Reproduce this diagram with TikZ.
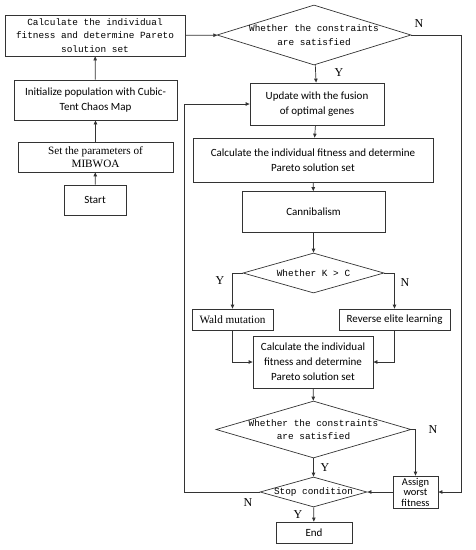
\documentclass[tikz,border=0pt]{standalone}
\usepackage{fontspec}
\setmainfont{Carlito}
\newfontfamily\monofam{Liberation Mono}
\newfontfamily\seriffam{Liberation Serif}
\usepackage{tikz}
\usetikzlibrary{arrows.meta,shapes.geometric}
\newcommand\sanstxt{\fontsize{11}{15}\selectfont}
\newcommand\monotxt{\monofam\fontsize{9.4}{13.5}\selectfont}
\newcommand\seriftxt{\seriffam\fontsize{11.2}{13.5}\selectfont}
\newcommand\yntxt{\seriffam\fontsize{12}{12}\selectfont}

\begin{document}
\begin{tikzpicture}[x=1pt,y=-1pt,>={Triangle[length=4pt,width=3.4pt]},line width=0.7pt,
  box/.style={draw=black!80,align=center,inner sep=0pt,font=\sanstxt},
  dia/.style={draw=black!80,diamond,inner sep=0pt},
  diatxt/.style={align=center,inner sep=0pt,font=\monotxt},
  yn/.style={inner sep=0pt,font=\yntxt},
  flow/.style={->,draw=black!80}]
\useasboundingbox (0,0) rectangle (475,550);
\node[box,font=\monotxt,minimum width=180,minimum height=41] (calcA) at (95,35.5) {Calculate the individual\\fitness and determine Pareto\\solution set};
\node[box,minimum width=163,minimum height=40] (init) at (95.5,100) {Initialize population with Cubic-\\Tent Chaos Map};
\node[box,font=\seriftxt,minimum width=155,minimum height=30] (setp) at (95.5,157) {Set the parameters of\\MIBWOA};
\node[box,minimum width=62,minimum height=30] (start) at (95,200) {Start};
\node[dia,minimum width=194,minimum height=60] (diaA) at (314,35) {};
\node[diatxt] (diaAt) at (diaA) {Whether the constraints\\are satisfied};
\node[box,minimum width=134,minimum height=42] (update) at (317,104) {Update with the fusion\\of optimal genes};
\node[box,minimum width=240,minimum height=44] (calcB) at (313,160) {Calculate the individual fitness and determine\\Pareto solution set};
\node[box,minimum width=143,minimum height=41] (cann) at (313.5,212) {Cannibalism};
\node[dia,minimum width=141,minimum height=40] (diaB) at (313.5,273) {};
\node[diatxt] (diaBt) at (diaB) {Whether K > C};
\node[box,font=\seriftxt,minimum width=81,minimum height=21] (wald) at (232.5,319.5) {Wald mutation};
\node[box,minimum width=111,minimum height=21] (rev) at (394.5,319.5) {Reverse elite learning};
\node[box,minimum width=120,minimum height=52] (calcC) at (313,362) {Calculate the individual\\fitness and determine\\Pareto solution set};
\node[dia,minimum width=195,minimum height=57] (diaC) at (313.5,429.5) {};
\node[diatxt] (diaCt) at (diaC) {Whether the constraints\\are satisfied};
\node[dia,minimum width=107,minimum height=30] (stop) at (313.5,492) {};
\node[diatxt] (stopt) at (stop) {Stop condition};
\node[box,font=\fontsize{10.5}{10.5}\selectfont,minimum width=45,minimum height=32] (assign) at (415.5,492) {Assign\\worst\\fitness};
\node[box,minimum width=76,minimum height=21] (end) at (314,532.5) {End};
\draw[flow] (start) -- (setp);
\draw[flow] (setp) -- (init);
\draw[flow] (init) -- (calcA);
\draw[flow] (calcA) -- (diaA);
\draw[flow] (diaA) -- (update);
\draw[flow] (diaA.east) -- ++(50,0) |- (assign.east);
\draw[flow] (update) -- (calcB);
\draw[flow] (calcB) -- (cann);
\draw[flow] (cann) -- (diaB);
\draw[flow] (diaB.west) -| (wald.north);
\draw[flow] (diaB.east) -| (rev.north);
\draw[flow] (wald.south) |- (calcC.west);
\draw[flow] (rev.south) |- (calcC.east);
\draw[flow] (calcC) -- (diaC);
\draw[flow] (diaC.east) -| (assign.north);
\draw[flow] (diaC) -- (stop);
\draw[flow] (assign) -- (stop);
\draw[flow] (stop.west) -- ++(-75,0) |- (update.west);
\draw[flow] (stop) -- (end);
\node[yn] (nA) at (419,24) {N};
\node[yn] (yA) at (339,73) {Y};
\node[yn] (yB) at (220,281) {Y};
\node[yn] (nB) at (405,283) {N};
\node[yn] (nC) at (433,430) {N};
\node[yn] (yC) at (325,468) {Y};
\node[yn] (nD) at (248,503) {N};
\node[yn] (yD) at (298,515) {Y};
\end{tikzpicture}
\end{document}
